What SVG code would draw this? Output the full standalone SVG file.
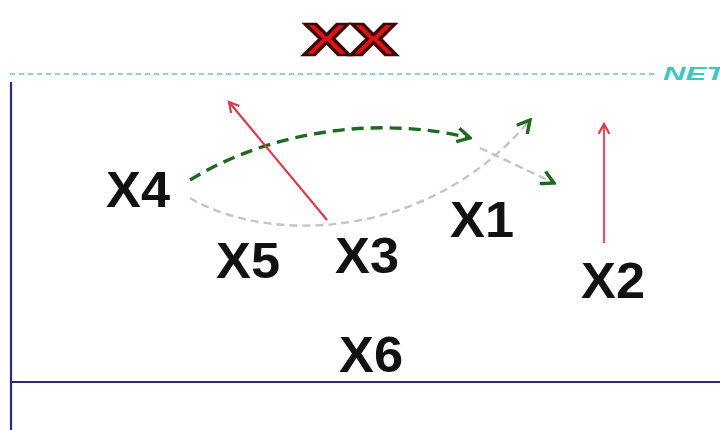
<svg xmlns="http://www.w3.org/2000/svg" width="720" height="430" viewBox="0 0 720 430">
<style>
.lbl{font-family:"Liberation Sans",Arial,sans-serif;font-size:50px;font-weight:bold;fill:#111;text-anchor:middle}
.title{font-family:"Liberation Sans",Arial,sans-serif;font-size:44px;font-weight:bold;fill:#e01414;stroke:#3a0808;stroke-width:2.5;text-anchor:middle}
.net{font-family:"Liberation Sans",Arial,sans-serif;font-size:19px;font-weight:bold;font-style:italic;fill:#3cc8c0}
.frame{stroke:#2e2a78;stroke-width:2.2;fill:none}
.red{stroke:#e03848;stroke-width:2.2;fill:none}
.green{stroke:#1e6a1e;stroke-width:3.4;fill:none;stroke-dasharray:12 7}
.grey{stroke:#c4c4c4;stroke-width:2.4;fill:none;stroke-dasharray:8 5}
</style>
<defs>
<marker id="redHead" viewBox="0 0 12 12" refX="10" refY="6" markerWidth="13" markerHeight="13" markerUnits="userSpaceOnUse" orient="auto">
<path d="M1,1 L10,6 L1,11" fill="none" stroke="#e03848" stroke-width="2"/>
</marker>
<marker id="greenHead" viewBox="0 0 14 14" refX="12" refY="7" markerWidth="16" markerHeight="16" markerUnits="userSpaceOnUse" orient="auto">
<path d="M1,1 L12,7 L1,13" fill="none" stroke="#1e6a1e" stroke-width="3"/>
</marker>
</defs>
<rect width="720" height="430" fill="#ffffff"/>
<g id="frame">
<line x1="10" y1="74" x2="656" y2="74" stroke="#86d8d8" stroke-width="2" stroke-dasharray="5 4"/>
<line class="frame" x1="11" y1="82" x2="11" y2="430"/>
<line class="frame" x1="11" y1="382" x2="720" y2="382"/>
</g>
<g id="title"><text class="title" x="350" y="55" textLength="94" lengthAdjust="spacingAndGlyphs">XX</text></g>
<g id="net"><text class="net" x="663" y="80" textLength="62" lengthAdjust="spacingAndGlyphs">NET</text></g>
<g id="connectors">
<path class="green" d="M190,180 C280,125 390,118 470,138" marker-end="url(#greenHead)"/>
<path class="grey" d="M190,198 C270,245 430,240 530,120" marker-end="url(#greenHead)"/>
<path class="grey" d="M480,148 L554,183" marker-end="url(#greenHead)"/>
<line class="red" x1="327" y1="220" x2="229" y2="102" marker-end="url(#redHead)"/>
<line class="red" x1="604" y1="243" x2="604" y2="124" marker-end="url(#redHead)" style="stroke:#e8506a"/>
</g>
<g id="X4"><text class="lbl" x="138" y="207" textLength="64" lengthAdjust="spacingAndGlyphs">X4</text></g>
<g id="X5"><text class="lbl" x="248" y="278" textLength="64" lengthAdjust="spacingAndGlyphs">X5</text></g>
<g id="X3"><text class="lbl" x="367" y="273" textLength="64" lengthAdjust="spacingAndGlyphs">X3</text></g>
<g id="X1"><text class="lbl" x="482" y="237" textLength="64" lengthAdjust="spacingAndGlyphs">X1</text></g>
<g id="X2"><text class="lbl" x="613" y="298" textLength="64" lengthAdjust="spacingAndGlyphs">X2</text></g>
<g id="X6"><text class="lbl" x="371" y="372" textLength="64" lengthAdjust="spacingAndGlyphs">X6</text></g>
</svg>
